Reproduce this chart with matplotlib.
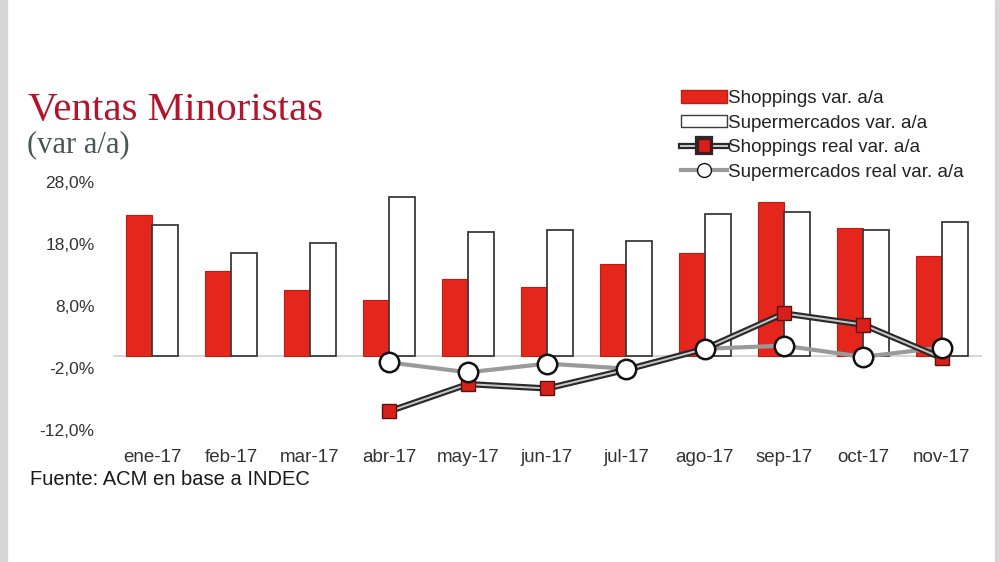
import matplotlib
matplotlib.use("Agg")
import matplotlib.pyplot as plt
import matplotlib.patheffects as pe
from matplotlib.patches import Rectangle, Patch
from matplotlib.lines import Line2D
import numpy as np

# datos (var a/a, %)
meses = ["ene-17", "feb-17", "mar-17", "abr-17", "may-17", "jun-17",
         "jul-17", "ago-17", "sep-17", "oct-17", "nov-17"]
shoppings = [22.7, 13.7, 10.6, 9.0, 12.3, 11.1, 14.7, 16.5, 24.8, 20.6, 16.1]
supermercados = [21.1, 16.5, 18.2, 25.5, 20.0, 20.3, 18.5, 22.9, 23.1, 20.2, 21.5]
shoppings_real = [None, None, None, -9.0, -4.6, -5.3, -2.3, 1.1, 6.8, 5.0, -0.4]
super_real = [None, None, None, -1.1, -2.7, -1.3, -2.1, 1.1, 1.6, -0.2, 1.3]
yticks = [28, 18, 8, -2, -12]

sans = ["Liberation Sans", "DejaVu Sans"]
serif = ["Liberation Serif", "DejaVu Serif"]

fig = plt.figure(figsize=(10, 5.62), dpi=100)
ax = fig.add_axes([0.1125, 0.2349, 0.869, 0.4413])

x = np.arange(len(meses))
w = 0.335
ax.bar(x - w / 2, shoppings, w, color="#e5261c", edgecolor="#c41a14", linewidth=0.8, zorder=2)
ax.bar(x + w / 2, supermercados, w, color="white", edgecolor="#3a3a3a", linewidth=1.3, zorder=2)
ax.axhline(0, color="#cfcfcf", lw=1.2, zorder=1)

sr = np.array([np.nan if v is None else v for v in super_real], dtype=float)
shr = np.array([np.nan if v is None else v for v in shoppings_real], dtype=float)

ax.plot(x, sr, color="#9a9a9a", lw=3, zorder=3)
ax.plot(x, shr, color="#c8c8c8", lw=1.4, zorder=4,
        path_effects=[pe.Stroke(linewidth=4.5, foreground="#2a2a2a"), pe.Normal()])
ax.plot(x, shr, ls="none", marker="s", markersize=10.5, markerfacecolor="#d8201a",
        markeredgecolor="#5a1010", markeredgewidth=1, zorder=5)
ax.plot(x, sr, ls="none", marker="o", markersize=14, markerfacecolor="white",
        markeredgecolor="#111111", markeredgewidth=1.8, zorder=6)

ax.set_xlim(-0.5, len(meses) - 0.5)
ax.set_ylim(-12, 28)
ax.set_yticks(yticks)
ax.set_yticklabels([f"{v:.1f}%".replace(".", ",") for v in yticks],
                   fontsize=12.5, color="#333333", family=sans)
ax.set_xticks(x)
ax.set_xticklabels(meses, fontsize=13.5, color="#333333", family=sans)
ax.tick_params(length=0)
ax.tick_params(axis="y", pad=13)
ax.tick_params(axis="x", pad=14)
for s in ax.spines.values():
    s.set_visible(False)

fig.text(0.028, 0.803, "Ventas Minoristas", fontsize=29.5, color="#b3162c",
         family=serif, va="center")
fig.text(0.027, 0.743, "(var a/a)", fontsize=22, color="#4a5555",
         family=serif, va="center")
fig.text(0.03, 0.146, "Fuente: ACM en base a INDEC", fontsize=14.5,
         color="#1a1a1a", family=sans, va="center")

handles = [
    Patch(facecolor="#e5261c", edgecolor="#c41a14"),
    Patch(facecolor="white", edgecolor="#3a3a3a"),
    Line2D([], [], color="#c8c8c8", lw=1.4, marker="s", markersize=9,
           markerfacecolor="#d8201a", markeredgecolor="#5a1010",
           path_effects=[pe.Stroke(linewidth=4.5, foreground="#2a2a2a"), pe.Normal()]),
    Line2D([], [], color="#9a9a9a", lw=3, marker="o", markersize=10,
           markerfacecolor="white", markeredgecolor="#111111"),
]
labels = ["Shoppings var. a/a", "Supermercados var. a/a",
          "Shoppings real var. a/a", "Supermercados real var. a/a"]
fig.legend(handles, labels, loc="upper left", bbox_to_anchor=(0.673, 0.853),
           frameon=False, prop={"family": sans, "size": 13.5},
           handlelength=2.5, handleheight=0.65, handletextpad=0.05,
           labelspacing=0.4, borderaxespad=0, labelcolor="#222222")

# bordes grises de la captura
fig.patches.append(Rectangle((0, 0), 0.007, 1, transform=fig.transFigure,
                             color="#d6d6d6", zorder=0))
fig.patches.append(Rectangle((0.995, 0), 0.005, 1, transform=fig.transFigure,
                             color="#d6d6d6", zorder=0))

fig.savefig("out.png", dpi=100)
